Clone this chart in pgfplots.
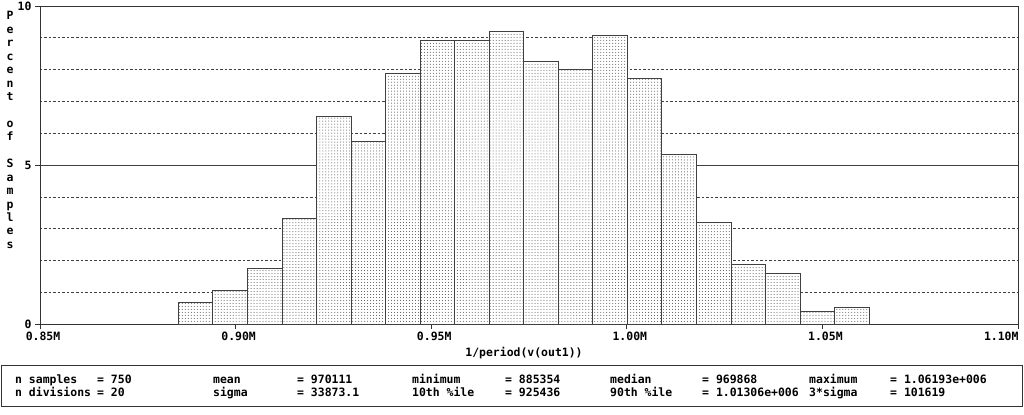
\documentclass[border=0pt]{standalone}
\usepackage{pgfplots}
\pgfplotsset{compat=1.18}
\usetikzlibrary{patterns}
\usepackage{fontspec}
\setmainfont{DejaVu Sans Mono}
\begin{document}
\begin{tikzpicture}[x=1bp,y=1bp]
\path[use as bounding box] (-40,-90) rectangle (984,324);
\begin{axis}[
    at={(0,0)}, anchor=south west,
    scale only axis, width=978bp, height=318bp,
    xmin=0.85, xmax=1.10, ymin=0, ymax=10,
    xtick={0.85,0.90,0.95,1.00,1.05},
    xticklabels={0.85M,0.90M,0.95M,1.00M,1.05M},
    extra x ticks={1.10}, extra x tick labels={1.10M},
    extra x tick style={xticklabel style={anchor=north east, xshift=1bp}},
    ytick={0,5,10}, minor ytick={1,2,3,4,6,7,8,9},
    tick align=outside, major tick length=5bp, minor tick length=0pt,
    xtick pos=bottom, ytick pos=left,
    ymajorgrids, yminorgrids,
    major grid style={black!75, line width=0.7bp},
    minor grid style={black!75, line width=0.6bp, dash pattern=on 2.5bp off 2bp},
    axis line style={black!80, line width=0.8bp},
    every tick/.style={black!80, line width=0.8bp},
    tick label style={font=\fontsize{11.5}{13}\selectfont\bfseries},
    /pgf/number format/assume math mode=true,
    xticklabel style={xshift=3bp, yshift=1bp},
    xlabel={1/period(v(out1))},
    xlabel style={font=\fontsize{11.5}{13}\selectfont\bfseries, yshift=10bp, xshift=-5bp},
]
\addplot[ybar interval, draw=black!75, line width=0.8bp, fill=white,
         postaction={pattern=dots, pattern color=black!70}]
  coordinates {
    (0.885354,0.6667) (0.894183,1.0667) (0.903012,1.7333) (0.911840,3.3333)
    (0.920669,6.5333) (0.929498,5.7333) (0.938327,7.8667) (0.947156,8.9333)
    (0.955984,8.9333) (0.964813,9.2000) (0.973642,8.2667) (0.982471,8.0000)
    (0.991300,9.0667) (1.000128,7.7333) (1.008957,5.3333) (1.017786,3.2000)
    (1.026615,1.8667) (1.035444,1.6000) (1.044272,0.4000) (1.053101,0.5333)
    (1.061930,0.5333)
  };
\end{axis}
% vertical y label, one letter per line
\node[font=\fontsize{11.5}{13.5}\selectfont\bfseries, align=center, inner sep=0pt]
  at (-30,194) {P\\e\\r\\c\\e\\n\\t\\\mbox{}\\o\\f\\\mbox{}\\S\\a\\m\\p\\l\\e\\s};
% statistics box
\draw[black!80, line width=0.8bp] (-39,-41) rectangle (982,-82);
\begin{scope}[every node/.style={anchor=base west, inner sep=0pt,
    font=\fontsize{11.5}{13}\selectfont\bfseries}]
\node at (-25,-59) {n samples};   \node at (57,-59) {= 750};
\node at (-25,-72.5) {n divisions}; \node at (57,-72.5) {= 20};
\node at (173,-59) {mean};        \node at (257,-59) {= 970111};
\node at (173,-72.5) {sigma};     \node at (257,-72.5) {= 33873.1};
\node at (372,-59) {minimum};     \node at (465,-59) {= 885354};
\node at (372,-72.5) {10th \%ile};\node at (465,-72.5) {= 925436};
\node at (570,-59) {median};      \node at (662,-59) {= 969868};
\node at (570,-72.5) {90th \%ile};\node at (662,-72.5) {= 1.01306e+006};
\node at (769,-59) {maximum};     \node at (850,-59) {= 1.06193e+006};
\node at (769,-72.5) {3*sigma};   \node at (850,-72.5) {= 101619};
\end{scope}
\end{tikzpicture}
\end{document}
